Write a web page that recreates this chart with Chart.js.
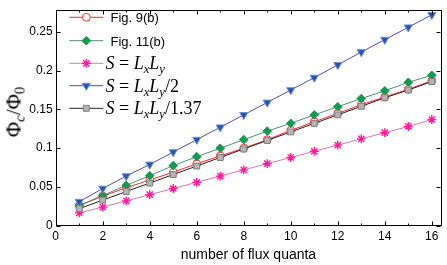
<!DOCTYPE html>
<html><head><meta charset="utf-8">
<script src="https://cdn.jsdelivr.net/npm/chart.js@4.4.1/dist/chart.umd.min.js"></script>
<style>
html,body{margin:0;padding:0;background:#fff;}
#wrap{position:relative;width:447px;height:265px;overflow:hidden;}
canvas{display:block;}
.leg{position:absolute;white-space:nowrap;color:#000;line-height:1;transform:translateY(-50%);}
.sans{font-family:"Liberation Sans",Arial,sans-serif;font-size:13px;}
.math{font-family:"Liberation Serif","Times New Roman",serif;font-size:18px;}
.math i,#ytitle i{font-style:italic;}
sub{font-size:0.7em;vertical-align:-0.3em;line-height:0;}
#ytitle{position:absolute;left:14px;top:112px;white-space:nowrap;font-family:"Liberation Serif","Times New Roman",serif;font-size:21px;line-height:1;transform:translate(-50%,-50%) rotate(-90deg);}
</style>
</head><body>
<div id="wrap"><canvas id="c" width="447" height="265"></canvas>
<div id="ytitle">&Phi;<sub><i>c</i></sub>/&Phi;<sub>0</sub></div>
</div>
<script>
const fluxQuanta = [1,2,3,4,5,6,7,8,9,10,11,12,13,14,15,16];
const fig9b  = [0.026,0.038,0.049,0.059,0.069,0.080,0.090,0.100,0.111,0.123,0.134,0.145,0.156,0.166,0.176,0.187];
const fig11b = [0.026,0.039,0.052,0.0645,0.0775,0.089,0.100,0.111,0.122,0.132,0.143,0.1535,0.164,0.174,0.185,0.194];
const sFull  = [0.0165,0.024,0.032,0.040,0.048,0.056,0.064,0.072,0.080,0.088,0.096,0.104,0.112,0.120,0.128,0.137];
const sHalf  = [0.031,0.048,0.064,0.079,0.095,0.111,0.127,0.143,0.159,0.175,0.191,0.2075,0.224,0.240,0.256,0.272];
const s137   = [0.022,0.033,0.044,0.055,0.066,0.077,0.088,0.099,0.110,0.121,0.132,0.143,0.154,0.165,0.175,0.186];
const xTicks = [0,2,4,6,8,10,12,14,16];
const xMinorTicks = [1,3,5,7,9,11,13,15];
const yTicks = [0,0.05,0.1,0.15,0.2,0.25];
const yTickLabels = ['0','0.05','0.1','0.15','0.2','0.25'];
const legendLabels = [
  'Fig. 9(b)',
  'Fig. 11(b)',
  '<i>S</i> = <i>L<sub>x</sub>L<sub>y</sub></i>',
  '<i>S</i> = <i>L<sub>x</sub>L<sub>y</sub></i>/2',
  '<i>S</i> = <i>L<sub>x</sub>L<sub>y</sub></i>/1.37'
];
const legendKinds = ['sans','sans','math','math','math'];
const xTitle = 'number of flux quanta';

const styles = [
  {line:'#ff2a2a', ps:'circle', r:3.9, bg:'#ffffff', bc:'#ff2a2a', bw:1, rot:0},
  {line:'#4f9070', ps:'rectRot', r:4.3, bg:'#139a4e', bc:'#139a4e', bw:1, rot:0},
  {line:'#d77aae', ps:'star', r:4.4, bg:'#ff1a9c', bc:'#ff1a9c', bw:1.4, rot:0},
  {line:'#4a4fbf', ps:'triangle', r:4.7, bg:'#2455b5', bc:'#7090d0', bw:1, rot:180},
  {line:'#222222', ps:'rect', r:4.2, bg:'#b4b4b4', bc:'#808080', bw:1, rot:0}
];
const series = [fig9b, fig11b, sFull, sHalf, s137];

const datasets = series.map((vals,i)=>({
  data: fluxQuanta.map((x,k)=>({x:x, y:vals[k]})),
  borderColor: styles[i].line, borderWidth: 1,
  pointStyle: styles[i].ps, pointRadius: styles[i].r,
  pointBackgroundColor: styles[i].bg, pointBorderColor: styles[i].bc,
  pointBorderWidth: styles[i].bw, pointRotation: styles[i].rot,
  fill:false, tension:0, order: 5-i
}));

const legendRows = [17.3, 40.7, 63.3, 85.7, 108.3];
const legendX = {l:69.3, r:103.3, m:86.3};
const legendTextX = [110.5,110.5,105.5,105.5,105.5];

const framePlugin = {
  id:'frame',
  afterDraw(chart){
    const ctx = chart.ctx, a = chart.chartArea;
    const xs = chart.scales.x, ys = chart.scales.y;
    ctx.save();
    ctx.strokeStyle = '#000'; ctx.lineWidth = 1;
    ctx.strokeRect(Math.round(a.left)+0.5, Math.round(a.top)+0.5, Math.round(a.right-a.left)-1, Math.round(a.bottom-a.top)-1);
    ctx.beginPath();
    const L = Math.round(a.left)+0.5, R = Math.round(a.right)-0.5, T = Math.round(a.top)+0.5, B = Math.round(a.bottom)-0.5;
    xTicks.forEach(v=>{const p=Math.round(xs.getPixelForValue(v))+0.5; ctx.moveTo(p,B); ctx.lineTo(p,B-4); ctx.moveTo(p,T); ctx.lineTo(p,T+4);});
    xMinorTicks.forEach(v=>{const p=Math.round(xs.getPixelForValue(v))+0.5; ctx.moveTo(p,B); ctx.lineTo(p,B-2); ctx.moveTo(p,T); ctx.lineTo(p,T+2);});
    yTicks.forEach(v=>{const p=Math.round(ys.getPixelForValue(v))+0.5; ctx.moveTo(L,p); ctx.lineTo(L+4,p); ctx.moveTo(R,p); ctx.lineTo(R-4,p);});
    ctx.stroke();
    chart.data.datasets.forEach((ds,i)=>{
      const y = legendRows[i];
      ctx.beginPath(); ctx.strokeStyle = ds.borderColor; ctx.lineWidth = 1;
      ctx.moveTo(legendX.l, y); ctx.lineTo(legendX.r, y); ctx.stroke();
      ctx.fillStyle = ds.pointBackgroundColor; ctx.strokeStyle = ds.pointBorderColor; ctx.lineWidth = ds.pointBorderWidth;
      Chart.helpers.drawPoint(ctx, {pointStyle: ds.pointStyle, radius: ds.pointRadius, rotation: ds.pointRotation, borderWidth: ds.pointBorderWidth}, legendX.m, y);
    });
    ctx.restore();
  }
};

const sansFont = {family:'"Liberation Sans", Arial, sans-serif', size:12};
new Chart(document.getElementById('c'), {
  type:'line',
  data:{datasets},
  options:{
    responsive:false, animation:false, devicePixelRatio:1,
    layout:{padding:{left:0,right:4,top:1.7,bottom:0}},
    plugins:{legend:{display:false}, tooltip:{enabled:false}},
    elements:{line:{borderWidth:1}},
    scales:{
      x:{type:'linear', min:0, max:16.4,
        afterBuildTicks:s=>{s.ticks = xTicks.map(v=>({value:v}));},
        afterFit:s=>{s.height = 39.3;},
        ticks:{font:sansFont, color:'#000', padding:3.5, autoSkip:false, maxRotation:0, callback:v=>String(v)},
        grid:{display:false, drawTicks:false}, border:{display:false},
        title:{display:true, text:xTitle, color:'#000', font:{family:'"Liberation Sans", Arial, sans-serif', size:14}, padding:{top:0,bottom:1}}
      },
      y:{type:'linear', min:0, max:0.278,
        afterBuildTicks:s=>{s.ticks = yTicks.map(v=>({value:v}));},
        afterFit:s=>{s.width = 55.7;},
        ticks:{font:sansFont, color:'#000', padding:3, autoSkip:false, callback:(v,i)=>yTickLabels[i]},
        grid:{display:false, drawTicks:false}, border:{display:false}
      }
    }
  },
  plugins:[framePlugin]
});

const wrap = document.getElementById('wrap');
legendLabels.forEach((html,i)=>{
  const d = document.createElement('div');
  d.className = 'leg ' + legendKinds[i]; d.style.left = legendTextX[i]+'px'; d.style.top = legendRows[i]+'px';
  d.innerHTML = html; wrap.appendChild(d);
});
</script>
</body></html>
